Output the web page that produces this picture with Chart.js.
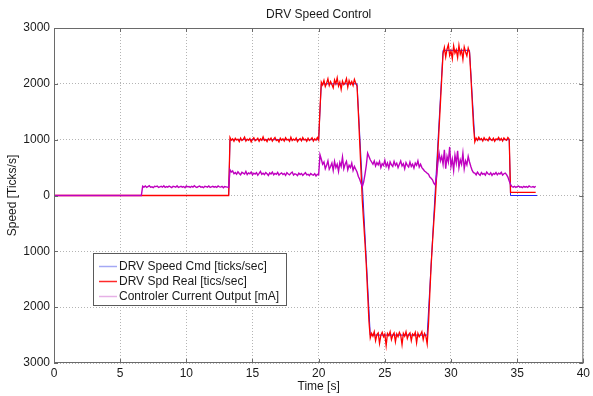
<!DOCTYPE html>
<html>
<head>
<meta charset="utf-8">
<title>DRV Speed Control</title>
<script src="https://cdn.jsdelivr.net/npm/chart.js@4/dist/chart.umd.min.js"></script>
<style>
  html, body { margin: 0; padding: 0; background: #fff; }
  canvas { display: block; }
</style>
</head>
<body>
<canvas id="speedChart" width="593" height="396"></canvas>
<script>
// sample times [s] shared by the real speed and current traces (10 per row = 1 s)
const time = [
  0, 0.1, 0.2, 0.3, 0.4, 0.5, 0.6, 0.7, 0.8, 0.9,
  1, 1.1, 1.2, 1.3, 1.4, 1.5, 1.6, 1.7, 1.8, 1.9,
  2, 2.1, 2.2, 2.3, 2.4, 2.5, 2.6, 2.7, 2.8, 2.9,
  3, 3.1, 3.2, 3.3, 3.4, 3.5, 3.6, 3.7, 3.8, 3.9,
  4, 4.1, 4.2, 4.3, 4.4, 4.5, 4.6, 4.7, 4.8, 4.9,
  5, 5.1, 5.2, 5.3, 5.4, 5.5, 5.6, 5.7, 5.8, 5.9,
  6, 6.1, 6.2, 6.3, 6.4, 6.5, 6.6, 6.7, 6.8, 6.9,
  7, 7.1, 7.2, 7.3, 7.4, 7.5, 7.6, 7.7, 7.8, 7.9,
  8, 8.1, 8.2, 8.3, 8.4, 8.5, 8.6, 8.7, 8.8, 8.9,
  9, 9.1, 9.2, 9.3, 9.4, 9.5, 9.6, 9.7, 9.8, 9.9,
  10, 10.1, 10.2, 10.3, 10.4, 10.5, 10.6, 10.7, 10.8, 10.9,
  11, 11.1, 11.2, 11.3, 11.4, 11.5, 11.6, 11.7, 11.8, 11.9,
  12, 12.1, 12.2, 12.3, 12.4, 12.5, 12.6, 12.7, 12.8, 12.9,
  13, 13.1, 13.2, 13.3, 13.4, 13.5, 13.6, 13.7, 13.8, 13.9,
  14, 14.1, 14.2, 14.3, 14.4, 14.5, 14.6, 14.7, 14.8, 14.9,
  15, 15.1, 15.2, 15.3, 15.4, 15.5, 15.6, 15.7, 15.8, 15.9,
  16, 16.1, 16.2, 16.3, 16.4, 16.5, 16.6, 16.7, 16.8, 16.9,
  17, 17.1, 17.2, 17.3, 17.4, 17.5, 17.6, 17.7, 17.8, 17.9,
  18, 18.1, 18.2, 18.3, 18.4, 18.5, 18.6, 18.7, 18.8, 18.9,
  19, 19.1, 19.2, 19.3, 19.4, 19.5, 19.6, 19.7, 19.8, 19.9,
  20, 20.1, 20.2, 20.3, 20.4, 20.5, 20.6, 20.7, 20.8, 20.9,
  21, 21.1, 21.2, 21.3, 21.4, 21.5, 21.6, 21.7, 21.8, 21.9,
  22, 22.1, 22.2, 22.3, 22.4, 22.5, 22.6, 22.7, 22.8, 22.9,
  23, 23.1, 23.2, 23.3, 23.4, 23.5, 23.6, 23.7, 23.8, 23.9,
  24, 24.1, 24.2, 24.3, 24.4, 24.5, 24.6, 24.7, 24.8, 24.9,
  25, 25.1, 25.2, 25.3, 25.4, 25.5, 25.6, 25.7, 25.8, 25.9,
  26, 26.1, 26.2, 26.3, 26.4, 26.5, 26.6, 26.7, 26.8, 26.9,
  27, 27.1, 27.2, 27.3, 27.4, 27.5, 27.6, 27.7, 27.8, 27.9,
  28, 28.1, 28.2, 28.3, 28.4, 28.5, 28.6, 28.7, 28.8, 28.9,
  29, 29.1, 29.2, 29.3, 29.4, 29.5, 29.6, 29.7, 29.8, 29.9,
  30, 30.1, 30.2, 30.3, 30.4, 30.5, 30.6, 30.7, 30.8, 30.9,
  31, 31.1, 31.2, 31.3, 31.4, 31.5, 31.6, 31.7, 31.8, 31.9,
  32, 32.1, 32.2, 32.3, 32.4, 32.5, 32.6, 32.7, 32.8, 32.9,
  33, 33.1, 33.2, 33.3, 33.4, 33.5, 33.6, 33.7, 33.8, 33.9,
  34, 34.1, 34.2, 34.3, 34.4, 34.5, 34.6, 34.7, 34.8, 34.9,
  35, 35.1, 35.2, 35.3, 35.4, 35.5, 35.6, 35.7, 35.8, 35.9,
  36, 36.1, 36.2, 36.3, 36.4
];

// DRV Spd Real [tics/sec]
const realSpeed = [
  // 0 - 13.2 s
  0, 0, 0, 0, 0, 0, 0, 0, 0, 0,
  0, 0, 0, 0, 0, 0, 0, 0, 0, 0,
  0, 0, 0, 0, 0, 0, 0, 0, 0, 0,
  0, 0, 0, 0, 0, 0, 0, 0, 0, 0,
  0, 0, 0, 0, 0, 0, 0, 0, 0, 0,
  0, 0, 0, 0, 0, 0, 0, 0, 0, 0,
  0, 0, 0, 0, 0, 0, 0, 0, 0, 0,
  0, 0, 0, 0, 0, 0, 0, 0, 0, 0,
  0, 0, 0, 0, 0, 0, 0, 0, 0, 0,
  0, 0, 0, 0, 0, 0, 0, 0, 0, 0,
  0, 0, 0, 0, 0, 0, 0, 0, 0, 0,
  0, 0, 0, 0, 0, 0, 0, 0, 0, 0,
  0, 0, 0, 0, 0, 0, 0, 0, 0, 0,
  0, 0, 0,
  // 13.3 - 20.0 s
  1040, 990, 1015, 970, 1025, 995, 1010, 965, 1030, 985,
  1005, 1045, 975, 1010, 990, 1020, 960, 1005, 1035, 980,
  1000, 1025, 970, 1015, 990, 1050, 985, 1005, 965, 1020,
  995, 1030, 975, 1010, 1040, 985, 1000, 960, 1025, 990,
  1015, 975, 1035, 995, 1005, 970, 1045, 985, 1010, 990,
  1030, 965, 1000, 1020, 980, 1040, 995, 1010, 970, 1025,
  985, 1005, 1035, 975, 1015, 990, 1040, 995,
  // 20.1 - 22.9 s
  1550,
  2030, 1980, 2060, 1950, 2010, 2090, 1970, 2040, 1990, 1930,
  2070, 2000, 2110, 1960, 2030, 1900, 2050, 1985, 2020, 2095,
  1940, 2060, 1990, 2040, 1970, 2080, 2010, 1960,
  // 23.0 - 23.8 s
  1480, 960, 440, -100, -480, -850, -1250, -1750, -2250,
  // 23.9 - 28.2 s
  -2550, -2470, -2520, -2440, -2600, -2490, -2460, -2650, -2500, -2450,
  -2530, -2480, -2690, -2470, -2510, -2440, -2580, -2500, -2460, -2620,
  -2480, -2530, -2450, -2500, -2670, -2470, -2520, -2440, -2560, -2490,
  -2460, -2600, -2480, -2510, -2450, -2640, -2470, -2530, -2490, -2440,
  -2580, -2470, -2520, -2660,
  // 28.3 - 29.3 s
  -2300, -1750, -1250, -850, -480, -130, 300, 750, 1200, 1650, 2100,
  // 29.4 - 31.4 s
  2540, 2650, 2480, 2620, 2700, 2510, 2590, 2450, 2680, 2550,
  2610, 2470, 2690, 2530, 2600, 2440, 2660, 2570, 2500, 2640, 2560,
  // 31.5 - 31.7 s
  2150, 1700, 1250,
  // 31.8 - 34.4 s
  960, 1030, 990, 1045, 1000, 1020, 975, 1035, 995, 1010,
  980, 1040, 1005, 985, 1025, 970, 1015, 1000, 1040, 990,
  1020, 975, 1030, 1005, 990, 1040, 1010,
  // 34.5 - 36.4 s
  55, 55, 55, 55, 55, 55, 55, 55, 55, 55,
  55, 55, 55, 55, 55, 55, 55, 55, 55, 55
];

// Controler Current Output [mA]
const currentOut = [
  // 0 - 6.6 s
  0, 0, 0, 0, 0, 0, 0, 0, 0, 0,
  0, 0, 0, 0, 0, 0, 0, 0, 0, 0,
  0, 0, 0, 0, 0, 0, 0, 0, 0, 0,
  0, 0, 0, 0, 0, 0, 0, 0, 0, 0,
  0, 0, 0, 0, 0, 0, 0, 0, 0, 0,
  0, 0, 0, 0, 0, 0, 0, 0, 0, 0,
  0, 0, 0, 0, 0, 0, 0,
  // 6.7 - 13.2 s
  165, 150, 170, 145, 160, 175, 150, 155, 140, 165,
  160, 170, 145, 155, 165, 150, 175, 145, 160, 150,
  170, 155, 140, 165, 160, 150, 175, 145, 155, 165,
  150, 160, 140, 170, 155, 160, 145, 165, 150, 175,
  155, 145, 160, 170, 150, 155, 140, 165, 160, 150,
  170, 145, 155, 165, 150, 160, 145, 170, 155, 150,
  165, 140, 160, 155, 150, 145,
  // 13.3 - 20.0 s
  460, 420, 440, 390, 410, 380, 425, 395, 370, 415,
  400, 385, 430, 375, 405, 390, 420, 370, 400, 385,
  410, 365, 395, 430, 380, 400, 375, 410, 390, 360,
  405, 385, 420, 370, 395, 380, 415, 365, 390, 405,
  375, 395, 360, 410, 385, 370, 400, 420, 365, 390,
  380, 355, 400, 375, 395, 360, 385, 410, 370, 380,
  355, 395, 375, 365, 390, 350, 380, 370,
  // 20.1 - 22.9 s
  730, 650, 560, 600, 480, 540, 620, 470, 520, 580,
  450, 610, 500, 560, 430, 590, 520, 690, 480, 560,
  610, 460, 540, 500, 580, 450, 520, 470, 420,
  // 23.0 - 23.8 s
  340, 290, 220, 160, 240, 380, 540, 760, 700,
  // 23.9 - 28.2 s
  640, 600, 560, 620, 530, 590, 550, 610, 500, 570,
  540, 630, 520, 580, 490, 600, 550, 520, 610, 540,
  580, 500, 560, 620, 530, 570, 480, 590, 540, 510,
  600, 520, 560, 490, 580, 540, 620, 510, 560, 500,
  470, 440, 420, 400,
  // 28.3 - 29.3 s
  380, 330, 310, 280, 220, 190, 330, 560, 760, 620, 700,
  // 29.4 - 31.4 s
  560, 820, 480, 700, 600, 870, 520, 650, 450, 720,
  580, 800, 500, 640, 560, 760, 480, 620, 550, 700, 600,
  // 31.5 - 31.7 s
  520, 450, 410,
  // 31.8 - 34.4 s
  400, 370, 420, 385, 360, 410, 380, 395, 365, 420,
  390, 375, 405, 360, 395, 380, 410, 370, 400, 385,
  415, 365, 390, 400, 375, 330, 260,
  // 34.5 - 36.4 s
  200, 160, 150, 165, 145, 160, 170, 150, 155, 140,
  165, 150, 160, 145, 170, 155, 150, 160, 145, 165
];

// DRV Speed Cmd [ticks/sec], read at its corners
const cmdTime  = [0, 13.2, 13.3, 20.0, 20.2, 22.9, 23.9, 28.2, 29.4, 31.4, 31.8, 34.4, 34.5, 36.5];
const cmdSpeed = [0, 0, 1000, 1000, 2000, 2000, -2500, -2500, 2600, 2600, 1000, 1000, 0, 0];

const seriesNames = ['DRV Speed Cmd [ticks/sec]', 'DRV Spd Real [tics/sec]', 'Controler Current Output [mA]'];
const lineColors = ['#2020ff', '#ff0000', '#bf00bf'];
const legendColors = ['#a4a8f4', '#ff2a2a', '#e6b0e6'];

const toPoints = (xs, ys) => xs.map((t, i) => ({ x: t, y: ys[i] }));

Chart.defaults.font.family = '"Liberation Sans", Arial, Helvetica, sans-serif';
Chart.defaults.font.size = 12;
Chart.defaults.color = '#1a1a1a';

// MATLAB style box, inward ticks and the legend inside the axes
const frameAndLegend = {
  id: 'frameAndLegend',
  afterDraw(chart) {
    const { ctx, chartArea: a, scales: { x, y } } = chart;
    ctx.save();
    ctx.strokeStyle = '#6a6a6a';
    ctx.lineWidth = 1;
    ctx.strokeRect(a.left + 0.5, a.top + 0.5, a.right - a.left - 1, a.bottom - a.top - 1);
    ctx.beginPath();
    x.ticks.forEach(t => {
      const px = Math.round(x.getPixelForValue(t.value)) + 0.5;
      ctx.moveTo(px, a.bottom); ctx.lineTo(px, a.bottom - 4);
      ctx.moveTo(px, a.top); ctx.lineTo(px, a.top + 4);
    });
    y.ticks.forEach(t => {
      const py = Math.round(y.getPixelForValue(t.value)) + 0.5;
      ctx.moveTo(a.left, py); ctx.lineTo(a.left + 4, py);
      ctx.moveTo(a.right, py); ctx.lineTo(a.right - 4, py);
    });
    ctx.stroke();

    const lx = 93.5, ly = 253.5, lw = 193, lh = 52;
    ctx.fillStyle = '#fff';
    ctx.fillRect(lx, ly, lw, lh);
    ctx.strokeStyle = '#5a5a5a';
    ctx.strokeRect(lx, ly, lw, lh);
    ctx.font = '12px "Liberation Sans", Arial, Helvetica, sans-serif';
    ctx.textBaseline = 'middle';
    ctx.textAlign = 'left';
    chart.data.datasets.forEach((ds, i) => {
      const cy = Math.round(ly + 12 + i * 15) + 0.5;
      ctx.strokeStyle = legendColors[i];
      ctx.lineWidth = 1.5;
      ctx.beginPath();
      ctx.moveTo(99, cy); ctx.lineTo(117, cy);
      ctx.stroke();
      ctx.fillStyle = '#1a1a1a';
      ctx.fillText(ds.label, 119, cy);
    });
    ctx.restore();
  }
};

// lower order is drawn on top: current over real speed over command
new Chart(document.getElementById('speedChart'), {
  type: 'line',
  data: {
    datasets: [
      { label: seriesNames[0], data: toPoints(cmdTime, cmdSpeed), borderColor: lineColors[0], borderWidth: 1, order: 3 },
      { label: seriesNames[1], data: toPoints(time, realSpeed), borderColor: lineColors[1], borderWidth: 1.3, order: 2 },
      { label: seriesNames[2], data: toPoints(time, currentOut), borderColor: lineColors[2], borderWidth: 1.4, order: 1 }
    ]
  },
  options: {
    responsive: false,
    devicePixelRatio: 1,
    animation: false,
    layout: { padding: { left: 0, right: 7, top: 0, bottom: 0 } },
    elements: {
      point: { radius: 0 },
      line: { tension: 0, fill: false }
    },
    plugins: {
      legend: { display: false },
      tooltip: { enabled: false },
      title: {
        display: true,
        text: 'DRV Speed Control',
        fullSize: false,
        font: { size: 12, weight: 'normal' },
        color: '#1a1a1a',
        padding: { top: 7, bottom: 6.6 }
      }
    },
    scales: {
      x: {
        type: 'linear',
        min: 0,
        max: 40,
        ticks: { stepSize: 5, autoSkip: false, maxRotation: 0, padding: 3, color: '#1a1a1a' },
        grid: { color: '#b4b4b4', drawTicks: false },
        border: { display: false, dash: [1, 2] },
        title: { display: true, text: 'Time [s]', color: '#1a1a1a', padding: { top: 0, bottom: 2 } },
        afterFit: s => { s.height = 33; }
      },
      y: {
        type: 'linear',
        min: -3000,
        max: 3000,
        ticks: { stepSize: 1000, autoSkip: false, padding: 4, color: '#1a1a1a', callback: v => String(Math.abs(v)) },
        grid: { color: '#b4b4b4', drawTicks: false },
        border: { display: false, dash: [1, 2] },
        title: { display: true, text: 'Speed [Ticks/s]', color: '#1a1a1a', padding: { top: 5, bottom: 0 } },
        afterFit: s => { s.width = 54; }
      }
    }
  },
  plugins: [frameAndLegend]
});
</script>
</body>
</html>
